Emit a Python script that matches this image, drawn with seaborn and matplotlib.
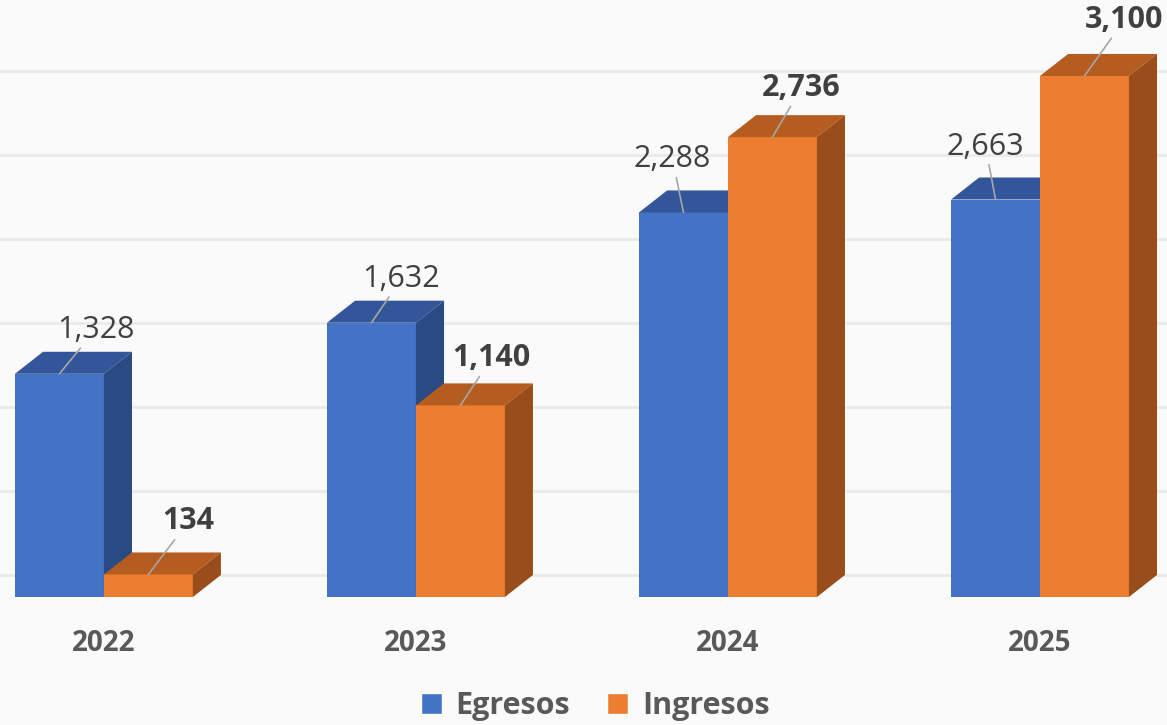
import pandas as pd
import numpy as np
import seaborn as sns
import matplotlib.pyplot as plt
from matplotlib.patches import Polygon, Patch
plt.switch_backend('agg')

# data (bar heights as drawn, labels as printed on the chart)
years = ['2022', '2023', '2024', '2025']
egresos = [1328, 1632, 2288, 2365]
ingresos = [134, 1140, 2736, 3100]
egresos_labels = ['1,328', '1,632', '2,288', '2,663']
ingresos_labels = ['134', '1,140', '2,736', '3,100']
series = ['Egresos', 'Ingresos']
labels = {'Egresos': egresos_labels, 'Ingresos': ingresos_labels}

# styles
FRONT = {'Egresos': '#4472C4', 'Ingresos': '#ED7D31'}
TOP = {'Egresos': '#33569A', 'Ingresos': '#B55C20'}
SIDE = {'Egresos': '#2A4A84', 'Ingresos': '#994D1A'}
DX, DY = 0.09, 131          # fake 3d depth (x in category units, y in value units)
# label offsets in pixels from the top-front centre of each bar
OFFSETS = {'Egresos': [(36, 44), (30, 44), (-11, 53), (-10, 53)],
           'Ingresos': [(40, 53), (31, 47), (29, 49), (40, 56)]}

sns.set_style('white')
plt.rcParams['font.family'] = ['Open Sans', 'DejaVu Sans']

df = pd.DataFrame({
    'year': years * 2,
    'serie': ['Egresos'] * 4 + ['Ingresos'] * 4,
    'valor': egresos + ingresos,
})

fig = plt.figure(figsize=(11.67, 7.25), dpi=100, facecolor='#FAFAFA')
ax = fig.add_axes([0, 128 / 725, 1, 597 / 725])
ax.set_facecolor('#FAFAFA')

sns.barplot(data=df, x='year', y='valor', hue='serie', hue_order=series,
            palette=[FRONT[s] for s in series], width=0.57, saturation=1,
            errorbar=None, legend=False, linewidth=0, ax=ax)

for k in range(7):
    ax.axhline(DY + k * 500, color='#EAEAEA', lw=2, zorder=0)

for z, (serie, cont) in enumerate(zip(series, ax.containers)):
    zo = 2 + z
    for i, bar in enumerate(cont.patches):
        bar.set_zorder(zo)
        x0, w, h = bar.get_x(), bar.get_width(), bar.get_height()
        top = Polygon([(x0, h), (x0 + w, h), (x0 + w + DX, h + DY), (x0 + DX, h + DY)],
                      closed=True, facecolor=TOP[serie], lw=0, zorder=zo)
        side = Polygon([(x0 + w, 0), (x0 + w + DX, DY), (x0 + w + DX, h + DY), (x0 + w, h)],
                       closed=True, facecolor=SIDE[serie], lw=0, zorder=zo)
        ax.add_patch(top)
        ax.add_patch(side)
        ox, oy = OFFSETS[serie][i]
        bold = serie == 'Ingresos'
        ax.annotate(labels[serie][i], xy=(x0 + w / 2, h), xytext=(ox, oy),
                    textcoords='offset pixels', ha='center', va='center',
                    fontsize=22, fontweight='bold' if bold else 'normal',
                    color='#404040',
                    arrowprops=dict(arrowstyle='-', color='#A6A6A6', lw=1.2,
                                    shrinkA=0, shrinkB=0),
                    zorder=6)

ax.set_xlim(-0.333, 3.407)
ax.set_ylim(0, 3552)
ax.set_xlabel('')
ax.set_ylabel('')
ax.set_yticks([])
ax.tick_params(axis='x', length=0, pad=23)
for lab in ax.get_xticklabels():
    lab.set_fontsize(20)
    lab.set_fontweight('bold')
    lab.set_color('#595959')
sns.despine(ax=ax, left=True, bottom=True)

handles = [Patch(facecolor=FRONT[s], label=s) for s in series]
leg = fig.legend(handles=handles, loc='center', bbox_to_anchor=(0.51, 0.026),
                 ncol=2, frameon=False, handlelength=0.7, handleheight=0.7,
                 handletextpad=0.45, columnspacing=1.2, prop={'size': 22, 'weight': 'bold'})
for t in leg.get_texts():
    t.set_color('#595959')

fig.savefig('out.png', dpi=100, facecolor=fig.get_facecolor())
